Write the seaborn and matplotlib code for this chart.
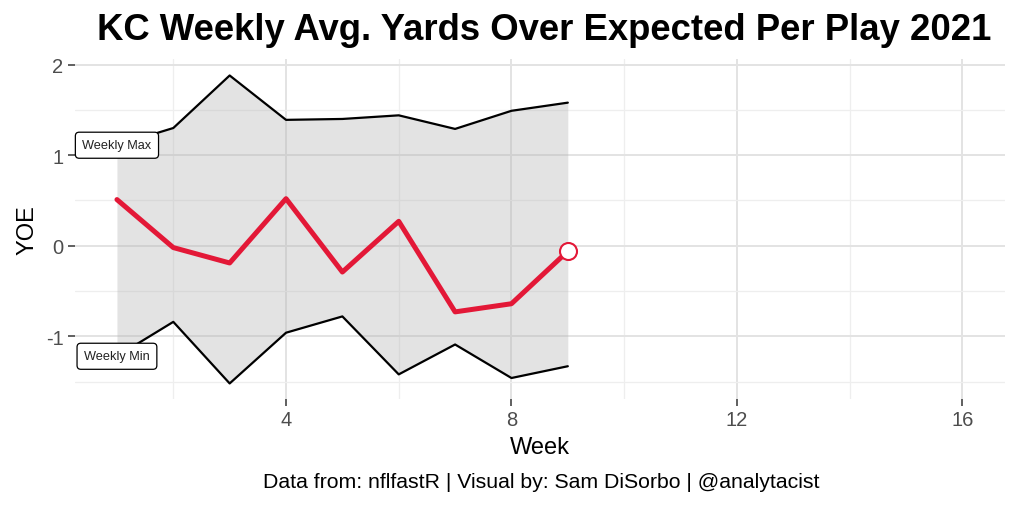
import matplotlib
matplotlib.use("agg")
import matplotlib.pyplot as plt
import pandas as pd
import seaborn as sns
from matplotlib.ticker import MultipleLocator

# weekly values
weeks = [1, 2, 3, 4, 5, 6, 7, 8, 9]
kc_yoe = [0.51, -0.02, -0.19, 0.52, -0.29, 0.27, -0.73, -0.64, -0.06]
week_max = [1.11, 1.30, 1.88, 1.39, 1.40, 1.44, 1.29, 1.49, 1.58]
week_min = [-1.22, -0.84, -1.52, -0.96, -0.78, -1.42, -1.09, -1.46, -1.33]

df = pd.DataFrame({'Week': weeks, 'YOE': kc_yoe, 'Max': week_max, 'Min': week_min})

sns.set_theme(style="whitegrid")
plt.rcParams['font.family'] = ['Liberation Sans', 'DejaVu Sans']
plt.rcParams['axes.unicode_minus'] = False
plt.rcParams['text.color'] = 'black'

fig = plt.figure(figsize=(10.23, 5.1), dpi=100)
ax = fig.add_axes([0.073, 0.216, 0.909, 0.666])

# ribbon between weekly min and max
ax.fill_between(df['Week'], df['Min'], df['Max'], color='#b3b3b3', alpha=0.37, lw=0, zorder=2)
sns.lineplot(data=df, x='Week', y='Max', color='black', lw=1.6, ax=ax, zorder=3)
sns.lineplot(data=df, x='Week', y='Min', color='black', lw=1.6, ax=ax, zorder=3)
sns.lineplot(data=df, x='Week', y='YOE', color='#E31837', lw=3.6, ax=ax, zorder=4)
last = df.iloc[[-1]]
sns.scatterplot(data=last, x='Week', y='YOE', s=150, color='white', edgecolor='#E31837',
                linewidth=1.5, ax=ax, zorder=5)

box = dict(boxstyle='round,pad=0.55,rounding_size=0.3', fc='white', ec='black', lw=0.9)
ax.text(df['Week'][0], df['Max'][0], 'Weekly Max', ha='center', va='center', fontsize=9.2,
        color='#222222', bbox=box, zorder=6)
ax.text(df['Week'][0], df['Min'][0], 'Weekly Min', ha='center', va='center', fontsize=9.2,
        color='#222222', bbox=box, zorder=6)

ax.set_xlim(0.25, 16.75)
ax.set_ylim(-1.69, 2.06)
ax.xaxis.set_major_locator(MultipleLocator(4))
ax.xaxis.set_minor_locator(MultipleLocator(2))
ax.yaxis.set_major_locator(MultipleLocator(1))
ax.yaxis.set_minor_locator(MultipleLocator(0.5))
ax.grid(which='major', color='#e3e3e3', lw=1.4, zorder=1)
ax.grid(which='minor', color='#eeeeee', lw=0.9, zorder=1)
for s in ax.spines.values():
    s.set_visible(False)
ax.set_facecolor('white')
ax.tick_params(axis='both', which='major', length=5, width=1.2, color='#444444',
               labelcolor='#4d4d4d', labelsize=14.5, pad=3, left=True, bottom=True)
ax.tick_params(which='minor', length=0)

ax.set_xlabel('Week', fontsize=17, color='black', labelpad=5)
ax.set_ylabel('YOE', fontsize=17, color='black', labelpad=5)
fig.text(0.532, 0.941, 'KC Weekly Avg. Yards Over Expected Per Play 2021', ha='center', va='center',
         fontsize=26.3, fontweight='bold')
fig.text(0.529, 0.053, 'Data from: nflfastR | Visual by: Sam DiSorbo | @analytacist', ha='center',
         va='center', fontsize=15.3)

fig.savefig('out.png', dpi=100)
